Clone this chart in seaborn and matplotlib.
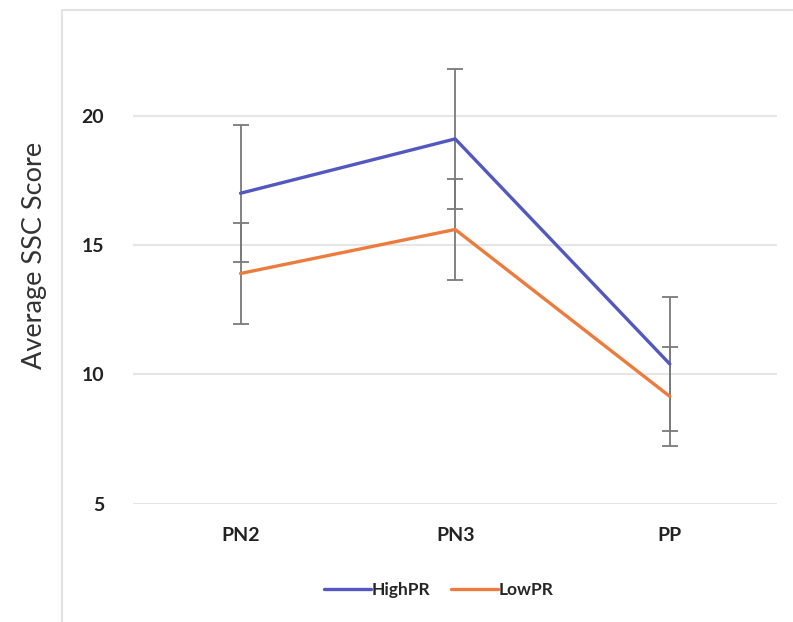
import pandas as pd
import matplotlib.pyplot as plt
import matplotlib.patches as mpatches
import seaborn as sns

sns.set_style("white")
plt.rcParams['font.family'] = ['Lato', 'DejaVu Sans']

# Data
stages = ["PN2", "PN3", "PP"]
high_pr = [17.0, 19.1, 10.4]
high_err = [2.65, 2.7, 2.6]
low_pr = [13.9, 15.6, 9.15]
low_err = [1.95, 1.95, 1.9]

df = pd.DataFrame({
    "stage": stages * 2,
    "score": high_pr + low_pr,
    "group": ["HighPR"] * 3 + ["LowPR"] * 3,
})

colors = {"HighPR": "#5258C0", "LowPR": "#EC7C3E"}

fig = plt.figure(figsize=(7.93, 6.22), dpi=100)
ax = fig.add_axes([0.168, 0.19, 0.812, 0.749])

# outer chart frame (partly cropped)
fig.patches.append(mpatches.Rectangle((0.078, -0.05), 1.0, 1.034, transform=fig.transFigure,
                                      fill=False, edgecolor="#e3e3e3", linewidth=1.5))

# error bars under the lines
ax.errorbar(range(3), high_pr, yerr=high_err, fmt="none", ecolor="#7a7a7a",
            elinewidth=1.3, capsize=6, capthick=1.3, zorder=2)
ax.errorbar(range(3), low_pr, yerr=low_err, fmt="none", ecolor="#7a7a7a",
            elinewidth=1.3, capsize=6, capthick=1.3, zorder=2)

sns.lineplot(data=df, x="stage", y="score", hue="group", palette=colors,
             linewidth=2.4, sort=False, ax=ax, zorder=3)

ax.set_xlim(-0.5, 2.5)
ax.set_ylim(5, 23)
ax.set_yticks([5, 10, 15, 20])
ax.yaxis.grid(True, color="#e6e6e6", linewidth=1.5)
ax.xaxis.grid(False)
for s in ax.spines.values():
    s.set_visible(False)
ax.tick_params(axis="both", length=0, labelsize=14, colors="#222222")
for lab in ax.get_xticklabels() + ax.get_yticklabels():
    lab.set_fontweight("bold")
ax.tick_params(axis="y", pad=21)
ax.tick_params(axis="x", pad=17)

ax.set_xlabel("")
ax.set_ylabel("")
fig.text(0.044, 0.59, "Average SSC Score", rotation=90, fontsize=19.5, color="#333333",
         ha="center", va="center")

handles, labels = ax.get_legend_handles_labels()
ax.legend(handles, labels, loc="center", bbox_to_anchor=(0.475, -0.185), ncol=2,
          frameon=False, prop={"weight": "bold", "size": 12.5}, handlelength=2.7,
          handletextpad=0.05, columnspacing=1.2)

fig.savefig("out.png", dpi=100)
